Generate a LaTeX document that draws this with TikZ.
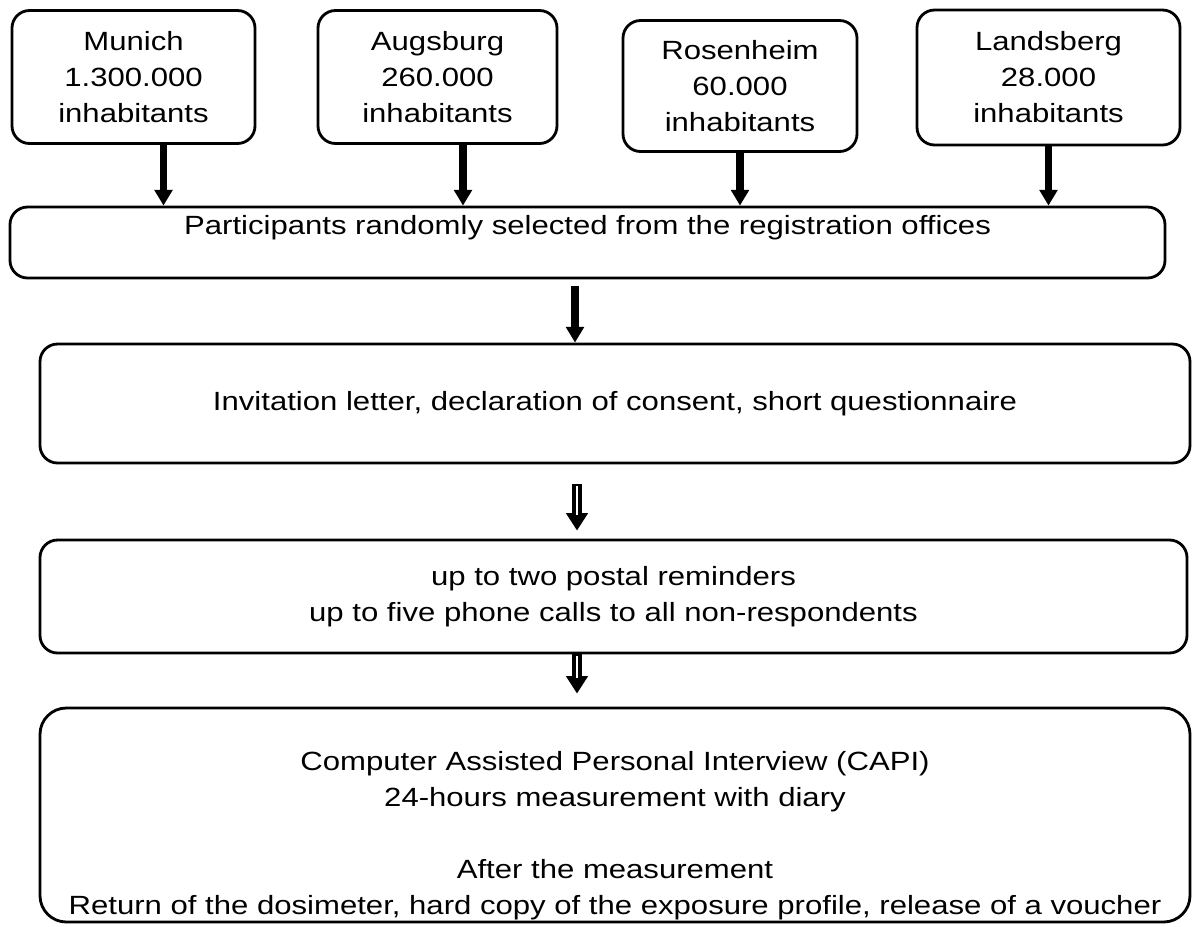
\documentclass[tikz,border=0pt]{standalone}
\usepackage{fontspec}
\setsansfont[FakeStretch=1.18]{Liberation Sans}
\usetikzlibrary{arrows.meta,positioning,calc}

\begin{document}
\begin{tikzpicture}[
  font=\sffamily\fontsize{15}{20.5}\selectfont,
  city/.style={draw, line width=1.6pt, rounded corners=10pt, align=center, inner sep=0pt},
  wide/.style={draw, line width=1.6pt, rounded corners=10pt, align=center, inner sep=0pt, minimum width=23cm},
  fat/.style={-{Triangle[width=10pt,length=9pt]}, line width=4.5pt},
  hollow/.style 2 args={-{Triangle[width=12pt,length=10pt]}, line width=6pt,
    shorten <=#1, shorten >=#2,
    postaction={draw=white, line width=1pt, -, shorten <=#1+1pt, shorten >=#2+9pt}}
]
\useasboundingbox (0,0) rectangle (23.84,-18.52);

% cities
\node[city, minimum width=4.86cm, minimum height=2.66cm] (munich) at (2.67,-1.54) {Munich\\1.300.000\\inhabitants};
\node[city, minimum width=4.78cm, minimum height=2.66cm] (augsburg) at (8.75,-1.54) {Augsburg\\260.000\\inhabitants};
\node[city, minimum width=4.68cm, minimum height=2.62cm] (rosenheim) at (14.8,-1.72) {Rosenheim\\60.000\\inhabitants};
\node[city, minimum width=5.26cm, minimum height=2.7cm] (landsberg) at (20.97,-1.55) {Landsberg\\28.000\\inhabitants};

% steps
\node[wide, minimum width=23.1cm, minimum height=1.42cm] (part) at (11.75,-4.85)
  {Participants randomly selected from the registration offices\\\mbox{}};
\node[wide, minimum height=2.38cm] (inv) at (12.3,-8.07)
  {Invitation letter, declaration of consent, short questionnaire};
\node[wide, minimum width=22.94cm, minimum height=2.26cm] (rem) at (12.27,-11.93)
  {up to two postal reminders\\up to five phone calls to all non-respondents};
\node[wide, rounded corners=15pt, minimum height=4.28cm] (capi) at (12.3,-16.3)
  {\strut\\Computer Assisted Personal Interview (CAPI)\\24-hours measurement with diary\\[20.5pt]After the measurement\\Return of the dosimeter, hard copy of the exposure profile, release of a voucher};

% arrows
\draw[fat] ([xshift=0.6cm]munich.south) -- ([xshift=0.6cm]munich.south |- part.north);
\draw[fat] ([xshift=0.51cm]augsburg.south) -- ([xshift=0.51cm]augsburg.south |- part.north);
\draw[fat] (rosenheim.south) -- (rosenheim.south |- part.north);
\draw[fat] (landsberg.south) -- (landsberg.south |- part.north);
\draw[fat, shorten <=0.14cm] ([xshift=-0.25cm]part.south) -- ([xshift=-0.25cm]part.south |- inv.north);
\draw[hollow={0.4cm}{0.16cm}] ([xshift=-0.76cm]inv.south) -- ([xshift=-0.76cm]inv.south |- rem.north);
\draw[hollow={0cm}{0.26cm}] ([xshift=-0.73cm]rem.south) -- ([xshift=-0.73cm]rem.south |- capi.north);

\end{tikzpicture}
\end{document}
